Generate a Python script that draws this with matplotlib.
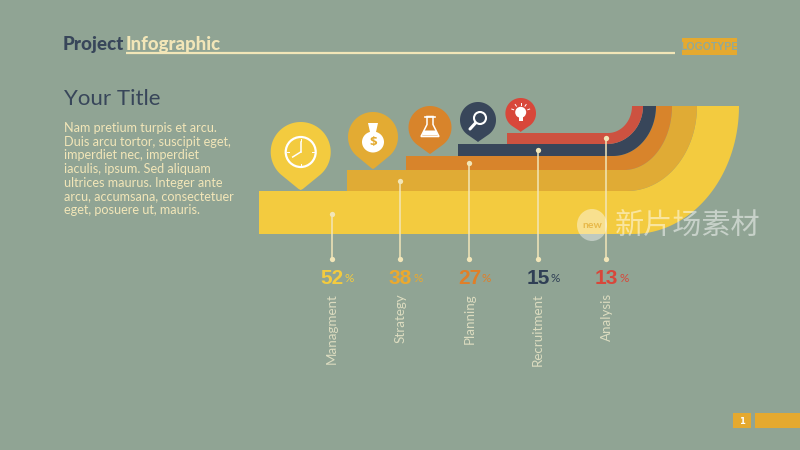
import numpy as np
import matplotlib
matplotlib.use("Agg")
import matplotlib.pyplot as plt
from matplotlib.patches import Circle, Rectangle, Ellipse, Polygon

# ---- data ----
categories = ["Managment", "Strategy", "Planning", "Recruitment", "Analysis"]
values = [52, 38, 27, 15, 13]
colors = ["#f3cb3f", "#e0ab35", "#d8842b", "#38465a", "#cd5240"]
num_colors = ["#f3cb3f", "#eba92e", "#e07f28", "#2f3f55", "#d8473a"]
body_lines = ["Nam pretium turpis et arcu.", "Duis arcu tortor, suscipit eget,",
              "imperdiet nec, imperdiet", "iaculis, ipsum. Sed aliquam",
              "ultrices maurus. Integer ante", "arcu, accumsana, consectetuer",
              "eget, posuere ut, mauris."]

# ---- layout (pixel space) ----
BG = "#90a494"; CREAM = "#f2e6b8"; NAVY = "#38465a"; GOLD = "#e5a92f"
band_left = [259, 347, 406, 458, 507]
band_top = [191, 170, 156, 144, 133]
band_bottom = [234, 191, 170, 156, 144]
arc_right = [739, 697, 672, 656, 643, 632]
arc_bottom = [234, 191, 170, 156, 144, 133]
arc_start = [633, 627, 624, 613, 607, 608]
TOP = 106
leader_x = [331.5, 400, 469, 537.5, 606]
leader_top = [214, 181, 163, 150, 138]
LEADER_END = 259
pins = [(300.7, 152, 30, 190), (373, 137, 25, 169), (430, 127.5, 21.5, 154),
        (478, 120, 18, 142), (520.7, 113.3, 15.3, 132)]
pin_colors = ["#f3cb3f", "#e3ab33", "#d8842b", "#38465a", "#d8473a"]

fig = plt.figure(figsize=(8, 4.5), dpi=100, facecolor=BG)
ax = fig.add_axes([0, 0, 1, 1])
ax.set_xlim(0, 800); ax.set_ylim(450, 0); ax.axis("off")

def arc(i):
    t = np.linspace(0, np.pi / 2, 60)
    rx = arc_right[i] - arc_start[i]; ry = arc_bottom[i] - TOP
    return arc_start[i] + rx * np.sin(t), TOP + ry * np.cos(t)

for i in range(5):
    ox, oy = arc(i)
    ix, iy = arc(i + 1)
    xs = np.r_[band_left[i], ox, ix[::-1], band_left[i]]
    ys = np.r_[band_bottom[i], oy, iy[::-1], band_top[i]]
    ax.fill(xs, ys, color=colors[i], lw=0, zorder=2)

def pin(cx, cy, r, tip, c):
    # round head with tangents running to a slightly rounded tip
    alpha = np.arccos(r / (tip - cy))
    ang = np.linspace(np.pi / 2 + alpha, 2.5 * np.pi - alpha, 120)
    x = cx + r * np.cos(ang); y = cy + r * np.sin(ang)
    ax.fill(np.r_[x, cx + r * .07, cx, cx - r * .07], np.r_[y, tip - 1, tip, tip - 1], color=c, lw=0, zorder=3)

for p, c in zip(pins, pin_colors):
    pin(*p, c)
W = "white"
# clock
cx, cy, r, _ = pins[0]
ax.add_patch(Circle((cx, cy), 15, fc="none", ec=W, lw=1.6, zorder=4))
for a in np.arange(0, 360, 90):
    ax.plot([cx + 11.5 * np.cos(np.radians(a)), cx + 13.5 * np.cos(np.radians(a))],
            [cy + 11.5 * np.sin(np.radians(a)), cy + 13.5 * np.sin(np.radians(a))], color=W, lw=.7, zorder=4)
ax.plot([cx, cx], [cy, cy - 10], color=W, lw=1.1, zorder=4)
ax.plot([cx, cx - 8], [cy, cy + 5], color=W, lw=1.1, zorder=4)
# bag
cx, cy, *_ = pins[1]
ax.add_patch(Ellipse((cx, cy + 5), 22, 21, fc=W, ec="none", zorder=4))
ax.add_patch(Polygon([(cx - 5, cy - 14), (cx + 5, cy - 14), (cx + 3, cy - 5), (cx - 3, cy - 5)], fc=W, ec="none", zorder=4))
ax.text(cx, cy + 5.5, "$", color=pin_colors[1], fontsize=9.5, fontweight="bold", ha="center", va="center", zorder=5, family="Open Sans")
# flask
cx, cy, *_ = pins[2]
ax.add_patch(Polygon([(cx - 3, cy - 11), (cx + 3, cy - 11), (cx + 3, cy - 3), (cx + 9, cy + 9), (cx - 9, cy + 9), (cx - 3, cy - 3)],
                     fc="none", ec=W, lw=1.1, zorder=4))
ax.add_patch(Polygon([(cx - 6, cy + 3), (cx + 6, cy + 3), (cx + 8, cy + 8), (cx - 8, cy + 8)], fc=W, ec="none", zorder=4))
ax.plot([cx - 5, cx + 5], [cy - 11, cy - 11], color=W, lw=1.2, zorder=4)
# magnifier
cx, cy, *_ = pins[3]
ax.add_patch(Circle((cx + 2, cy - 2), 6, fc="none", ec=W, lw=1.5, zorder=4))
ax.plot([cx - 2.5, cx - 8], [cy + 3, cy + 9], color=W, lw=2.2, solid_capstyle="round", zorder=4)
# bulb
cx, cy, *_ = pins[4]
ax.add_patch(Circle((cx, cy - 1), 5.5, fc=W, ec="none", zorder=4))
ax.add_patch(Rectangle((cx - 2.2, cy + 3.5), 4.4, 4, fc=W, ec="none", zorder=4))
for a in (-160, -125, -90, -55, -20):
    c_, s_ = np.cos(np.radians(a)), np.sin(np.radians(a))
    ax.plot([cx + 7.5 * c_, cx + 9.5 * c_], [cy - 1 + 7.5 * s_, cy - 1 + 9.5 * s_], color=W, lw=.7, zorder=4)

# leaders, values, labels
for i, (cat, v) in enumerate(zip(categories, values)):
    x = leader_x[i]
    ax.plot([x, x], [leader_top[i], LEADER_END], color=CREAM, lw=1.1, zorder=5)
    ax.plot([x, x], [leader_top[i], LEADER_END], ls="none", marker="o", ms=3.8, color=CREAM, mew=0, zorder=6)
    ax.text(x + 12, 284, str(v), color=num_colors[i], fontsize=15, fontweight="bold", family="Liberation Sans", ha="right", va="baseline", zorder=6)
    ax.text(x + 13, 282, "%", color=num_colors[i], fontsize=8.5, family="Lato", ha="left", va="baseline", zorder=6)
    ax.text(x + 0.5, 293, cat, color="#dcdcc0", fontsize=9.6, family="Lato", rotation=90, ha="center", va="top", zorder=6)

# header
ax.text(63, 50, "Project", color=NAVY, fontsize=13.6, fontweight="black", family="Lato", va="baseline")
ax.text(126, 50, "Infographic", color=CREAM, fontsize=13.4, fontweight="black", family="Lato", va="baseline")
ax.plot([126, 675], [53, 53], color=CREAM, lw=1.6, solid_capstyle="butt")
ax.add_patch(Rectangle((682, 38), 55, 17, fc=GOLD, ec="none"))
ax.text(709.5, 46.8, "LOGOTYPE", color="#8fa99a", fontsize=7.6, fontweight="bold", family="Liberation Sans", ha="center", va="center")
ax.text(64, 105, "Your Title", color=NAVY, fontsize=16, family="Lato", va="baseline")
for k, line in enumerate(body_lines):
    ax.text(64, 132 + k * 13.65, line, color=CREAM, fontsize=9.1, family="Lato", va="baseline")

# footer
ax.add_patch(Rectangle((733, 413), 18, 15, fc=GOLD, ec="none"))
ax.add_patch(Rectangle((755, 413), 45, 15, fc=GOLD, ec="none"))
ax.text(742, 421, "1", color="white", fontsize=6, fontweight="bold", ha="center", va="center")

# watermark
ax.add_patch(Ellipse((592, 225), 30, 32, fc="white", alpha=.42, ec="none", zorder=7))
ax.text(592, 226, "new", color="#e8b94a", fontsize=7.5, fontweight="bold", ha="center", va="center", zorder=8, family="Lato")
ax.text(615, 226, "新片场素材", color="white", alpha=.5, fontsize=21, family=["Noto Sans CJK SC", "DejaVu Sans"], ha="left", va="center", zorder=7)

fig.savefig("out.png", dpi=100, facecolor=BG)
